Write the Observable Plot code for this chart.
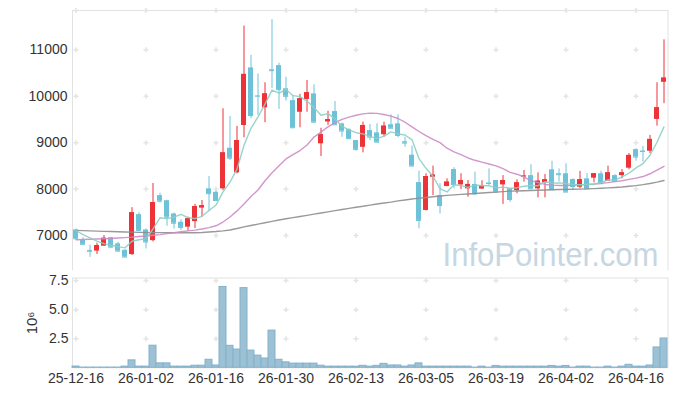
<!DOCTYPE html>
<html><head><meta charset="utf-8">
<script src="https://cdn.jsdelivr.net/npm/d3@7"></script>
<script src="https://cdn.jsdelivr.net/npm/@observablehq/plot@0.6"></script>
<style>
body{margin:0;background:#fff}
#wrap{position:relative;width:677px;height:396px;overflow:hidden;background:#fff}
#wrap svg{position:absolute;left:0}
</style>
</head><body><div id="wrap"></div>
<script>
const dates = ["25-12-16","25-12-17","25-12-18","25-12-19","25-12-22","25-12-23","25-12-24","25-12-26","25-12-29","25-12-30",
"26-01-02","26-01-05","26-01-06","26-01-07","26-01-08","26-01-09","26-01-12","26-01-13","26-01-14","26-01-15",
"26-01-16","26-01-19","26-01-20","26-01-21","26-01-22","26-01-23","26-01-26","26-01-27","26-01-28","26-01-29",
"26-01-30","26-02-02","26-02-03","26-02-04","26-02-05","26-02-06","26-02-09","26-02-10","26-02-11","26-02-12",
"26-02-13","26-02-19","26-02-20","26-02-23","26-02-24","26-02-25","26-02-26","26-02-27","26-03-03","26-03-04",
"26-03-05","26-03-06","26-03-09","26-03-10","26-03-11","26-03-12","26-03-13","26-03-16","26-03-17","26-03-18",
"26-03-19","26-03-20","26-03-23","26-03-24","26-03-25","26-03-26","26-03-27","26-03-30","26-03-31","26-04-01",
"26-04-02","26-04-03","26-04-06","26-04-07","26-04-08","26-04-09","26-04-10","26-04-13","26-04-14","26-04-15",
"26-04-16","26-04-17","26-04-20","26-04-21","26-04-22"];

const open = [7120,6900,6680,6665,6770,6955,6820,6680,6590,7450,
7120,6890,7860,7750,7465,7285,7180,7300,7590,8005,
7930,8005,8880,8350,9370,10610,10010,9750,10570,10660,
10160,9905,9655,9930,10050,8975,9445,9670,9405,9285,
9045,8900,9260,9210,9170,9385,9405,9020,8730,8140,
7540,8255,7860,8055,8420,8090,8005,8100,8000,8130,
8185,8090,8005,7970,8270,8290,8005,8135,8415,8330,
8330,8205,8040,8220,8235,8330,8170,8290,8290,8450,
8850,8820,8815,9500,10300];
const high = [7140,6950,6790,6835,7000,6960,6855,6700,7600,7490,
7140,8120,7910,7760,7480,7340,7395,7670,7755,8270,
7960,9730,9565,9350,11510,10880,10480,10290,11650,10710,
10410,10015,10040,10340,10245,9310,9675,9885,9420,9295,
9050,9440,9390,9405,9440,9600,9600,9115,8925,8385,
8330,8495,8115,8220,8460,8330,8185,8365,8180,8435,
8190,8290,8010,8200,8400,8525,8350,8315,8600,8435,
8545,8220,8380,8330,8335,8385,8495,8310,8420,8765,
8870,8920,9155,10290,11215];
const low = [6910,6800,6530,6590,6770,6730,6640,6530,6570,7080,
6710,6860,7700,7200,7140,7110,7090,7150,7395,7525,
7740,7970,8615,8330,9105,9515,9585,9430,10170,9715,
9895,9310,9320,9655,9430,8700,9370,9380,9115,9070,
8815,8780,9045,9000,9115,9305,9105,8900,8490,7145,
7530,7860,7465,8050,8005,7990,7825,7860,7995,8075,
7930,7670,7715,7900,8150,8000,7810,7810,7980,8150,
7925,7970,8005,8000,8135,8110,8165,8150,8220,8415,
8600,8580,8760,9355,9840];
const close = [6930,6810,6660,6785,6940,6750,6665,6535,7490,7110,
6860,7710,7740,7395,7265,7175,7360,7625,7640,7900,
7755,8780,8665,9045,10470,9585,10000,10050,10550,10140,
10000,9320,9945,10075,9440,9170,9495,9385,9250,9085,
8855,9370,9120,9010,9355,9310,9155,8990,8495,7325,
8270,8300,7645,8150,8100,8185,8100,7900,8070,8120,
7935,8185,7775,8135,8280,8005,8170,8200,7985,8310,
7935,8055,8200,8005,8330,8115,8350,8165,8350,8725,
8690,8810,9070,9750,10390];
const volume = [110000,20000,20000,20000,20000,20000,20000,100000,640000,100000,
100000,1900000,380000,380000,100000,100000,100000,180000,180000,690000,
200000,6950000,1890000,1570000,6850000,1480000,1050000,800000,3200000,690000,
470000,360000,360000,360000,360000,180000,100000,100000,100000,100000,
100000,170000,100000,170000,340000,200000,200000,100000,200000,380000,
100000,100000,100000,100000,100000,100000,100000,20000,100000,20000,
160000,100000,100000,100000,100000,100000,100000,100000,160000,100000,
160000,20000,100000,100000,20000,20000,100000,20000,100000,260000,
100000,100000,200000,1750000,2520000];
const ma5 = [7108,7020,6950,6880,6825,6789,6760,6735,6876,6910,
6932,7141,7382,7363,7394,7457,7387,7364,7413,7540,
7656,7940,8148,8429,8943,9309,9553,9830,10131,10065,
10148,10012,9991,9896,9756,9590,9625,9513,9348,9277,
9214,9189,9136,9088,9142,9233,9190,9164,9061,8655,
8447,8276,8007,7938,8093,8076,8036,8087,8071,8075,
8025,8042,8017,8030,8062,8076,8073,8158,8128,8134,
8120,8097,8097,8101,8105,8141,8200,8193,8262,8341,
8456,8548,8729,9009,9342];
const ma20 = [6910,6915,6920,6925,6930,6935,6945,6955,6965,6980,
6990,7005,7020,7040,7060,7080,7100,7115,7140,7170,
7210,7290,7400,7530,7680,7840,7980,8180,8350,8500,
8650,8740,8830,8950,9120,9230,9340,9430,9500,9550,
9590,9620,9635,9630,9606,9570,9520,9440,9340,9240,
9150,9070,9000,8880,8800,8740,8670,8620,8580,8540,
8500,8440,8360,8320,8260,8180,8140,8100,8085,8078,
8077,8080,8090,8100,8110,8125,8140,8160,8180,8210,
8235,8270,8330,8410,8490];
const ma60 = [7110,7105,7100,7095,7090,7085,7080,7075,7072,7068,
7065,7063,7062,7060,7060,7060,7060,7060,7065,7075,
7085,7100,7120,7150,7185,7215,7245,7275,7305,7335,
7360,7385,7410,7435,7460,7485,7510,7535,7560,7585,
7610,7630,7655,7680,7700,7720,7745,7765,7785,7805,
7820,7835,7850,7865,7875,7885,7895,7905,7915,7925,
7935,7945,7955,7960,7965,7970,7975,7980,7985,7990,
7993,7997,8000,8005,8010,8017,8025,8035,8045,8060,
8075,8095,8120,8150,8185];

const xTickLabels = ["25-12-16","26-01-02","26-01-16","26-01-30","26-02-13","26-03-05","26-03-19","26-04-02","26-04-16"];
const priceTicks = [7000, 8000, 9000, 10000, 11000];
const volTicks = [2500000, 5000000, 7500000];

const UP = "#ee3338", DOWN = "#6ec2d8";
const rows = dates.map((d, i) => ({date: d, open: open[i], high: high[i], low: low[i], close: close[i],
  volume: volume[i], ma5: ma5[i], ma20: ma20[i], ma60: ma60[i],
  color: close[i] >= open[i] ? UP : DOWN}));

const plusSym = {draw(ctx) { ctx.moveTo(-2.5, 0); ctx.lineTo(2.5, 0); ctx.moveTo(0, -2.5); ctx.lineTo(0, 2.5); }};
const gridPrice = xTickLabels.flatMap(x => priceTicks.map(y => ({x, y})));
const gridVol = xTickLabels.flatMap(x => volTicks.map(y => ({x, y})));
const font = {fontFamily: "'Liberation Sans', Arial, sans-serif", fontSize: "14px", color: "#333", background: "#fff"};
const GRID = "#e4e4e4";

const price = Plot.plot({
  width: 677, height: 278, marginTop: 10, marginBottom: 0.5, marginLeft: 72, marginRight: 9.5,
  style: font,
  x: {type: "band", domain: dates, padding: 0, axis: null},
  y: {domain: [6085, 11846]},
  color: {type: "identity"},
  marks: [
    Plot.frame({stroke: "#e2e2e2"}),
    Plot.dot(gridPrice, {x: "x", y: "y", symbol: plusSym, stroke: GRID, fill: "none"}),
    Plot.dot(xTickLabels, {x: d => d, frameAnchor: "top", symbol: plusSym, stroke: GRID, fill: "none"}),
    Plot.axisY(priceTicks, {tickSize: 0, tickPadding: 5, tickFormat: d => String(d), fontSize: 14}),
    Plot.text(["InfoPointer.com"], {frameAnchor: "bottom-right", dx: -9.5, dy: -12.5, textAnchor: "end", lineAnchor: "bottom",
      fontSize: 33, fill: "#c6d7e3", fontFamily: "'Liberation Sans', Arial, sans-serif"}),
    Plot.ruleX(rows, {x: "date", y1: "low", y2: "high", stroke: "color", strokeWidth: 1}),
    Plot.barY(rows, {x: "date", y1: "open", y2: "close", fill: "color", insetLeft: 1, insetRight: 1}),
    Plot.tickY(rows, {x: "date", y: "close", stroke: "color", insetLeft: 1, insetRight: 1}),
    Plot.lineY(rows, {x: "date", y: "ma60", stroke: "#8e8e8e", strokeWidth: 1.4, strokeOpacity: 0.9}),
    Plot.lineY(rows, {x: "date", y: "ma20", stroke: "#cc8cc6", strokeWidth: 1.4, strokeOpacity: 0.9}),
    Plot.lineY(rows, {x: "date", y: "ma5", stroke: "#8ccfc3", strokeWidth: 1.4, strokeOpacity: 0.9})
  ]
});
price.style.top = "0px";

const vol = Plot.plot({
  width: 677, height: 126, marginTop: 7.5, marginBottom: 28.7, marginLeft: 72, marginRight: 9.5,
  style: font,
  x: {type: "band", domain: dates, padding: 0},
  y: {domain: [0, 7720000]},
  marks: [
    Plot.frame({stroke: "#e2e2e2"}),
    Plot.dot(gridVol, {x: "x", y: "y", symbol: plusSym, stroke: GRID, fill: "none"}),
    Plot.axisY(volTicks, {tickSize: 0, tickPadding: 4, tickFormat: d => (d / 1e6).toFixed(1), fontSize: 14, label: null}),
    Plot.axisX(xTickLabels, {tickSize: 0, tickPadding: 5, fontSize: 14, label: null}),
    Plot.text(["10\u2076"], {frameAnchor: "left", dx: -40, rotate: -90, fontSize: 15, fill: "#333", textAnchor: "middle"}),
    Plot.barY(rows, {x: "date", y: "volume", fill: "#9cc1d4", stroke: "#84b1cb", strokeWidth: 1})
  ]
});
vol.style.top = "270px";

const wrap = document.getElementById("wrap");
wrap.appendChild(price);
wrap.appendChild(vol);
d3.select(price).selectAll("text").filter(function() { return this.textContent === "InfoPointer.com"; })
  .attr("textLength", 216).attr("lengthAdjust", "spacingAndGlyphs");
</script>
</body></html>
